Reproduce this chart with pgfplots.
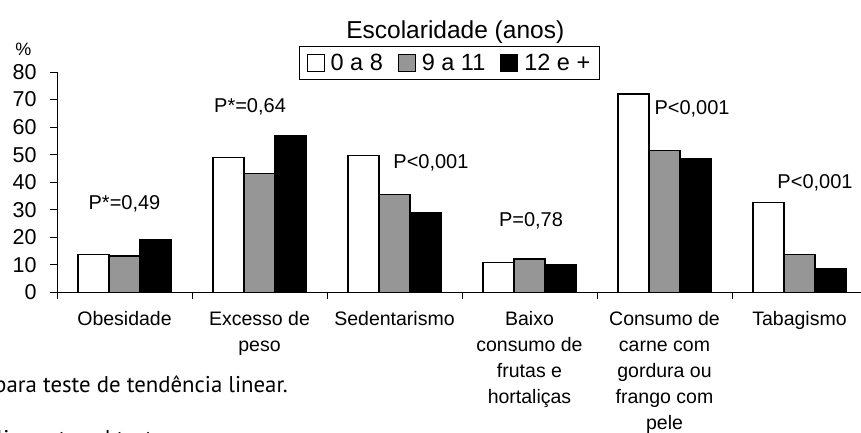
\documentclass[border=0pt]{standalone}
\usepackage{pgfplots}
\pgfplotsset{compat=1.18}
\usepackage{fontspec}
\setmainfont{Liberation Sans}
\newfontfamily\footfont{PT Sans}
\definecolor{barGray}{RGB}{150,150,150}
\pgfplotstableread{
x w g b
0 13.7 13.2 19.3
1 48.9 43.3 56.8
2 49.7 35.5 29.1
3 10.8 12.1 9.9
4 72.0 51.4 48.4
5 32.7 13.8 8.5
}\datatab
\begin{document}
\begin{tikzpicture}
\begin{axis}[
  at={(124.5pt,140.7pt)}, anchor=origin,
  scale only axis, width=810pt, height=220.3pt,
  xmin=-0.5, xmax=5.5, ymin=0, ymax=80,
  clip=false,
  axis x line=bottom, axis y line=left,
  axis line style={-, line width=0.9pt, black},
  ybar=0pt, bar width=31pt,
  /pgf/number format/assume math mode=true,
  ytick={0,10,...,80},
  yticklabel style={font=\fontsize{21.5}{21.5}\selectfont, xshift=-10pt},
  xtick={-0.5,0.5,...,5.5},
  xticklabels={,,,,,,,},
  tick align=outside,
  major tick length=7pt,
  tick style={line width=0.9pt, black},
  extra x ticks={0,1,2,3,4,5},
  extra x tick labels={Obesidade,Excesso de\\peso,Sedentarismo,Baixo\\consumo de\\frutas e\\hortaliças,Consumo de\\carne com\\gordura ou\\frango com\\pele,Tabagismo},
  extra x tick style={tick style={draw=none}},
  xticklabel style={font=\fontsize{19.5}{26}\selectfont, align=center, anchor=north, yshift=-9pt},
  legend style={at={(0.4846,1.041)}, anchor=center, draw=black, line width=0.9pt,
    font=\fontsize{23.5}{23.5}\selectfont, legend columns=3,
    inner xsep=7pt, inner ysep=6pt,
    /tikz/every odd column/.append style={column sep=4pt},
    /tikz/every even column/.append style={column sep=13pt}},
  legend image code/.code={\draw[#1, line width=0.9pt] (0pt,-8.5pt) rectangle (17pt,8.5pt);},
]
\addplot[fill=white, draw=black, line width=1.1pt] table[x=x,y=w]{\datatab};
\addplot[fill=barGray, draw=black, line width=1.1pt] table[x=x,y=g]{\datatab};
\addplot[fill=black, draw=black, line width=1.1pt] table[x=x,y=b]{\datatab};
\legend{0 a 8,9 a 11,12 e +}
\node[font=\fontsize{24.5}{25}\selectfont] at (axis description cs:0.4917,1.18) {Escolaridade (anos)};
\begin{scope}[every node/.style={font=\fontsize{20}{20}\selectfont}]
\node at (axis cs:0,32.0) {P*=0,49};
\node at (axis cs:0.93,67.2) {P*=0,64};
\node at (axis cs:2.27,47.2) {P<0,001};
\node at (axis cs:3.011,26.0) {P=0,78};
\node at (axis cs:4.204,66.8) {P<0,001};
\node at (axis cs:5.115,39.8) {P<0,001};
\end{scope}
\end{axis}
\node[font=\fontsize{18}{18}\selectfont] at (23.5pt,384pt) {\%};
\node[font=\footfont\fontsize{22.8}{24}\selectfont, anchor=base east, inner sep=0pt] at (288pt,40pt) {para teste de tendência linear.};
\node[font=\footfont\fontsize{22.8}{24}\selectfont, anchor=base west, inner sep=0pt] at (-3.5pt,-14pt) {linear trend test.};
\pgfresetboundingbox
\path[use as bounding box] (0pt,0pt) rectangle (861pt,433pt);
\end{tikzpicture}
\end{document}
